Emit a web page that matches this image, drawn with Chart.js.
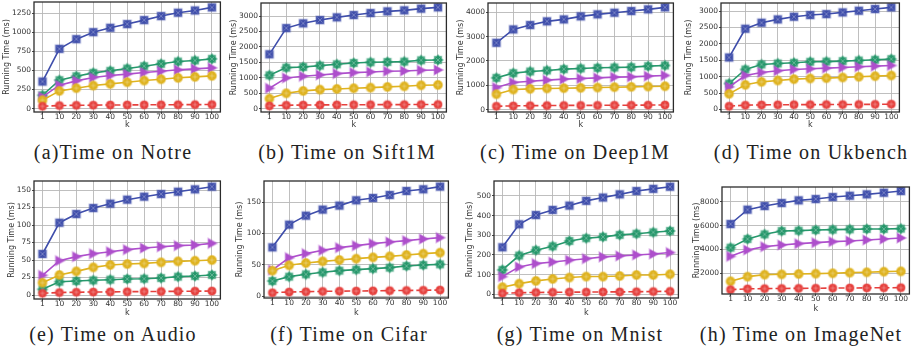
<!DOCTYPE html>
<html><head><meta charset="utf-8">
<script src="https://cdn.jsdelivr.net/npm/chart.js@4/dist/chart.umd.min.js"></script>
<style>
html,body{margin:0;padding:0;background:#fff;width:923px;height:357px;overflow:hidden;position:relative;}
canvas{position:absolute;}
.cap{position:absolute;width:300px;text-align:center;font-family:'Liberation Serif','Times New Roman',serif;font-size:20px;line-height:24px;letter-spacing:1.2px;color:#222;white-space:nowrap;}
</style></head><body>
<div class="cap" style="left:-37px;top:140px">(a)Time on Notre</div>
<div class="cap" style="left:197px;top:140px">(b) Time on Sift1M</div>
<div class="cap" style="left:425px;top:140px">(c) Time on Deep1M</div>
<div class="cap" style="left:661px;top:140px">(d) Time on Ukbench</div>
<div class="cap" style="left:-37px;top:322px">(e) Time on Audio</div>
<div class="cap" style="left:199px;top:322px">(f) Time on Cifar</div>
<div class="cap" style="left:430px;top:322px">(g) Time on Mnist</div>
<div class="cap" style="left:651px;top:322px">(h) Time on ImageNet</div>
<script>
// ---------- data ----------
const kLabels = ['1','10','20','30','40','50','60','70','80','90','100'];

const notreBlue   = [355,785,912,1004,1061,1110,1162,1215,1259,1289,1329];
const notreGreen  = [175,373,425,469,496,526,557,588,618,632,653];
const notrePurple = [154,307,364,408,434,452,474,491,509,522,535];
const notreYellow = [110,232,268,303,325,346,368,386,404,417,430];
const notreRed    = [30,40,43,45,47,48,49,50,51,52,53];
const notreTicks  = [0,250,500,750,1000,1250];

const siftBlue   = [1763,2610,2764,2871,2957,3032,3097,3151,3183,3237,3280];
const siftGreen  = [1086,1333,1355,1398,1441,1484,1505,1516,1527,1570,1581];
const siftPurple = [667,1000,1054,1097,1140,1172,1194,1215,1226,1247,1258];
const siftYellow = [333,505,581,624,645,667,688,710,731,763,774];
const siftRed    = [97,118,125,130,132,135,137,138,140,141,143];
const siftTicks  = [0,500,1000,1500,2000,2500,3000];

const deepBlue   = [2749,3299,3478,3629,3711,3835,3918,3986,4055,4124,4206];
const deepGreen  = [1306,1498,1567,1608,1663,1691,1718,1732,1746,1787,1814];
const deepPurple = [907,1113,1168,1210,1251,1278,1306,1333,1347,1375,1402];
const deepYellow = [632,825,852,870,880,893,907,921,935,948,962];
const deepRed    = [137,150,160,165,170,172,175,178,180,185,190];
const deepTicks  = [0,1000,2000,3000,4000];

const ukbBlue   = [1586,2461,2644,2746,2827,2878,2908,2959,3010,3061,3112];
const ukbGreen  = [793,1220,1373,1403,1424,1454,1460,1475,1495,1515,1536];
const ukbPurple = [691,1037,1129,1180,1220,1241,1261,1281,1302,1322,1342];
const ukbYellow = [478,753,844,885,925,946,956,976,997,1017,1037];
const ukbRed    = [102,132,142,145,148,150,152,153,155,158,163];
const ukbTicks  = [0,500,1000,1500,2000,2500,3000];

const audioBlue   = [58.6,103.3,115.7,124.3,130.5,136.2,140.5,144.3,147.6,151,154.8];
const audioGreen  = [8.1,19,20,21,21.9,22.9,23.3,24.3,26.2,27.1,28.6];
const audioPurple = [28.1,49,54.8,59,61.9,64.8,67.1,69,70.5,71.4,73.8];
const audioYellow = [17.6,28.6,33.8,39.5,42.9,44.3,45.2,46.7,48.1,49,50];
const audioRed    = [2.5,3.5,4,4.3,4.5,4.7,5,5.1,5.3,5.5,5.7];
const audioTicks  = [0,25,50,75,100,125,150];

const cifarBlue   = [77.9,114.2,128.6,138.3,144.7,153.2,156.9,161.7,168.1,170.8,175.1];
const cifarGreen  = [24,31,34.7,37.9,40.6,42.2,43.8,45.4,48,49.6,50.7];
const cifarPurple = [41.6,61.4,67.8,73.1,77.4,80.6,83.8,86.5,88.6,91.3,93.4];
const cifarYellow = [40.6,49.1,52.8,55.5,57.7,59.8,61.9,63.5,65.7,67.8,69.4];
const cifarRed    = [5.3,6.4,6.9,7.4,7.8,8,8.3,8.6,8.9,9.2,9.6];
const cifarTicks  = [0,50,100,150];

const mnistBlue   = [239,356,403,429,451,475,492,508,525,536,547];
const mnistGreen  = [124,197,224,244,271,285,292,302,308,315,322];
const mnistPurple = [90,139,156,164,173,181,190,195,200,205,212];
const mnistYellow = [36,54,68,78,85,90,90,93,98,98,102];
const mnistRed    = [5,8,9,10,11,11,12,12,13,14,15];
const mnistTicks  = [0,100,200,300,400,500];

const imgBlue   = [6130,7330,7637,7888,8112,8223,8391,8502,8614,8753,8893];
const imgGreen  = [4149,4874,5265,5544,5572,5628,5656,5684,5712,5712,5740];
const imgPurple = [3423,3953,4233,4372,4484,4567,4651,4707,4791,4874,4958];
const imgYellow = [1330,1721,1888,1916,1944,1972,2000,2056,2084,2140,2167];
const imgRed    = [630,700,720,730,740,750,760,770,780,790,800];
const imgTicks  = [2000,4000,6000,8000];

// ---------- styling ----------
const C_BLUE='#3f4eab', C_GREEN='#27986c', C_PURPLE='#ae4fcc', C_YELLOW='#dfb320', C_RED='#e6403d';
function hexA(hex,a){const n=parseInt(hex.slice(1),16);return 'rgba('+(n>>16)+','+((n>>8)&255)+','+(n&255)+','+a+')';}
function makeMarker(kind,color){
  const s=14,c=7,cv=document.createElement('canvas');cv.width=s;cv.height=s;const g=cv.getContext('2d');
  g.beginPath();
  if(kind==='square'){g.rect(c-3.8,c-3.8,7.6,7.6);}
  else if(kind==='circle'){g.arc(c,c,4.4,0,Math.PI*2);}
  else if(kind==='oct'){g.arc(c,c,4.0,0,Math.PI*2);}
  else if(kind==='tri'){g.moveTo(c+4.9,c);g.lineTo(c-3.7,c-4.7);g.lineTo(c-3.7,c+4.7);g.closePath();}
  else if(kind==='star'){for(let i=0;i<16;i++){const r=(i%2)?3.7:4.9;const a=-Math.PI/2+i*Math.PI/8;const x=c+r*Math.cos(a),y=c+r*Math.sin(a);if(i)g.lineTo(x,y);else g.moveTo(x,y);}g.closePath();}
  g.fillStyle=color;g.fill();
  g.lineWidth=1.6;g.strokeStyle=hexA(color,0.45);g.stroke();
  g.strokeStyle='rgba(255,255,255,0.35)';g.lineWidth=0.8;g.beginPath();
  if(kind==='square'||kind==='star'){g.moveTo(c-2.5,c-2.5);g.lineTo(c+2.5,c+2.5);g.moveTo(c+2.5,c-2.5);g.lineTo(c-2.5,c+2.5);}
  else if(kind==='oct'||kind==='circle'){g.moveTo(c-2.6,c);g.lineTo(c+2.6,c);g.moveTo(c,c-2.6);g.lineTo(c,c+2.6);}
  g.stroke();
  return cv;
}
const M_BLUE=makeMarker('square',C_BLUE), M_GREEN=makeMarker('star',C_GREEN), M_PURPLE=makeMarker('tri',C_PURPLE),
      M_YELLOW=makeMarker('circle',C_YELLOW), M_RED=makeMarker('oct',C_RED);

const framePlugin={id:'frame',afterDatasetsDraw(ch){const a=ch.chartArea,g=ch.ctx;g.save();g.strokeStyle='#2b2b2b';g.lineWidth=1.3;g.strokeRect(a.left,a.top,a.right-a.left,a.bottom-a.top);g.restore();}};

function ds(data,color,marker,dash){
  return {data:data,borderColor:color,backgroundColor:color,borderWidth:1.6,borderDash:dash||[],
    pointStyle:marker,pointRadius:4,pointHoverRadius:4,tension:0,fill:false};
}

const panels=[
  {id:'a',L:34,T:2,R:222,B:112,tx:7,ky:125,min:-45,max:1400,ticks:notreTicks,s:[notreBlue,notreGreen,notrePurple,notreYellow,notreRed]},
  {id:'b',L:261,T:3,R:448,B:112,tx:234,ky:125,min:-100,max:3420,ticks:siftTicks,s:[siftBlue,siftGreen,siftPurple,siftYellow,siftRed]},
  {id:'c',L:488,T:3,R:675,B:112,tx:461,ky:125,min:-100,max:4385,ticks:deepTicks,s:[deepBlue,deepGreen,deepPurple,deepYellow,deepRed]},
  {id:'d',L:721,T:3,R:901,B:112,tx:689,ky:125,min:-75,max:3245,ticks:ukbTicks,s:[ukbBlue,ukbGreen,ukbPurple,ukbYellow,ukbRed]},
  {id:'e',L:34,T:181,R:222,B:299,tx:12,ky:312.5,min:-5.7,max:162.9,ticks:audioTicks,s:[audioBlue,audioGreen,audioPurple,audioYellow,audioRed]},
  {id:'f',L:264,T:181,R:450,B:298,tx:240,ky:312.5,min:-3.2,max:184.1,ticks:cifarTicks,s:[cifarBlue,cifarGreen,cifarPurple,cifarYellow,cifarRed]},
  {id:'g',L:494,T:181,R:680,B:298,tx:470,ky:312.5,min:-19,max:576,ticks:mnistTicks,s:[mnistBlue,mnistGreen,mnistPurple,mnistYellow,mnistRed]},
  {id:'h',L:722,T:187,R:911,B:294,tx:697,ky:308.3,min:267,max:9230,ticks:imgTicks,s:[imgBlue,imgGreen,imgPurple,imgYellow,imgRed]}
];

const tickFont={family:"'DejaVu Sans', sans-serif",size:7.5,lineHeight:1.1};
const titleFont={family:"'DejaVu Sans', sans-serif",size:8,lineHeight:1.2};
const GRID='#b8b8b8', TXT='#333';

panels.forEach(p=>{
  const cl=Math.round(p.tx-4.8), ct=p.T-8, cw=p.R+4-cl, ch=Math.round(p.ky+5.3)-ct;
  const yw=p.L-cl, xh=ch-(p.B-ct);
  const cv=document.createElement('canvas');
  cv.width=cw;cv.height=ch;cv.style.left=cl+'px';cv.style.top=ct+'px';cv.style.width=cw+'px';cv.style.height=ch+'px';
  document.body.appendChild(cv);
  new Chart(cv,{
    type:'line',
    data:{labels:kLabels,datasets:[
      ds(p.s[4],C_RED,M_RED,[6,3]),
      ds(p.s[3],C_YELLOW,M_YELLOW),
      ds(p.s[2],C_PURPLE,M_PURPLE),
      ds(p.s[1],C_GREEN,M_GREEN),
      ds(p.s[0],C_BLUE,M_BLUE)
    ]},
    options:{
      responsive:false,animation:false,devicePixelRatio:1,
      layout:{padding:{top:8,right:4,left:0,bottom:0}},
      plugins:{legend:{display:false},tooltip:{enabled:false},title:{display:false}},
      events:[],
      scales:{
        x:{type:'category',offset:true,
          grid:{color:GRID,lineWidth:0.9,offset:false,drawTicks:true,tickLength:2,tickColor:TXT},
          border:{display:false},
          ticks:{font:tickFont,color:TXT,padding:-1.5,autoSkip:false,maxRotation:0,minRotation:0},
          title:{display:true,text:'k',font:titleFont,color:TXT,padding:0},
          afterFit:s=>{s.height=xh;}
        },
        y:{type:'linear',min:p.min,max:p.max,
          afterBuildTicks:s=>{s.ticks=p.ticks.map(v=>({value:v}));},
          grid:{color:GRID,lineWidth:0.9,drawTicks:true,tickLength:2,tickColor:TXT},
          border:{display:false},
          ticks:{font:tickFont,color:TXT,padding:1,callback:v=>String(v)},
          title:{display:true,text:'Running Time (ms)',font:titleFont,color:TXT,padding:0},
          afterFit:s=>{s.width=yw;}
        }
      }
    },
    plugins:[framePlugin]
  });
});
</script>
</body></html>
